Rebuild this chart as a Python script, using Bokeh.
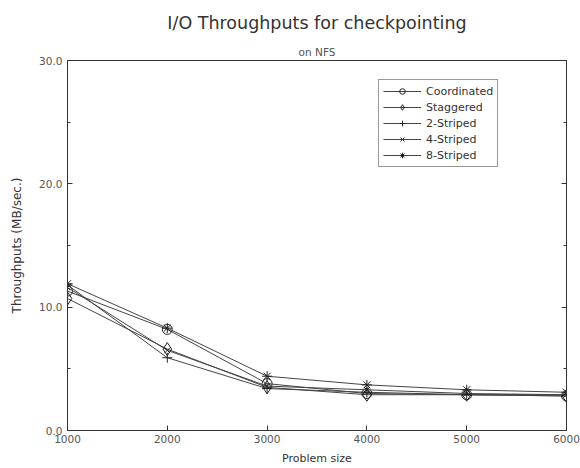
from bokeh.plotting import figure
from bokeh.models import (Range1d, LinearAxis, FixedTicker, Title, Legend, LegendItem,
                          NumeralTickFormatter)
from bokeh.embed import file_html
from bokeh.resources import INLINE

problem_size = [1000, 2000, 3000, 4000, 5000, 6000]
coordinated = [11.3, 8.2, 3.8, 3.0, 2.9, 2.8]
staggered = [10.7, 6.6, 3.5, 2.9, 2.9, 2.8]
striped2 = [11.8, 5.9, 3.4, 3.1, 2.9, 2.9]
striped4 = [11.6, 6.5, 3.6, 3.3, 3.0, 2.9]
striped8 = [11.9, 8.3, 4.4, 3.7, 3.3, 3.1]

series = [
    ("Coordinated", coordinated, "circle", 10),
    ("Staggered", staggered, "diamond", 13),
    ("2-Striped", striped2, "cross", 10),
    ("4-Striped", striped4, "x", 8),
    ("8-Striped", striped8, "asterisk", 10),
]
y_ticks = [0, 10, 20, 30]
x_ticks = [1000, 2000, 3000, 4000, 5000, 6000]
title_text = "I/O Throughputs for checkpointing"
subtitle_text = "on NFS"

FONT = "DejaVu Sans"
INK = "#333333"

p = figure(width=580, height=468, output_backend="svg", toolbar_location=None,
           x_range=Range1d(1000, 6000), y_range=Range1d(0, 30),
           min_border_left=67, min_border_right=14, min_border_top=60, min_border_bottom=38,
           background_fill_color="white", border_fill_color="white")
p.grid.visible = False
p.outline_line_color = INK
p.outline_line_width = 1

p.add_layout(Title(text=subtitle_text, align="center", text_font=FONT, text_font_size="10.5px",
                   text_color="#555555", text_font_style="normal", standoff=6), "above")
p.add_layout(Title(text=title_text, align="center", text_font=FONT,
                   text_font_size="17.5px", text_color=INK, text_font_style="normal",
                   standoff=12, vertical_align="top"), "above")

for ax in (p.xaxis[0], p.yaxis[0]):
    ax.major_tick_in = 5
    ax.major_tick_out = 0
    ax.minor_tick_in = 3
    ax.minor_tick_out = 0
    ax.axis_line_color = INK
    ax.major_tick_line_color = INK
    ax.minor_tick_line_color = INK
    ax.major_label_text_font = FONT
    ax.major_label_text_font_size = "10.5px"
    ax.major_label_text_color = "#555555"
    ax.axis_label_text_font = FONT
    ax.axis_label_text_font_style = "normal"
    ax.axis_label_text_color = INK

p.xaxis[0].ticker = FixedTicker(ticks=x_ticks)
p.xaxis[0].minor_tick_line_color = None
p.xaxis[0].axis_label = "Problem size"
p.xaxis[0].axis_label_text_font_size = "11px"
p.xaxis[0].axis_label_standoff = 6
p.xaxis[0].major_label_standoff = 4

p.yaxis[0].ticker = FixedTicker(ticks=y_ticks, minor_ticks=[5, 15, 25])
p.yaxis[0].formatter = NumeralTickFormatter(format="0.0")
p.yaxis[0].axis_label = "Throughputs (MB/sec.)"
p.yaxis[0].axis_label_text_font_size = "12px"
p.yaxis[0].axis_label_standoff = 12
p.yaxis[0].major_label_standoff = 5

right = LinearAxis(ticker=FixedTicker(ticks=y_ticks, minor_ticks=[5, 15, 25]),
                   major_label_overrides={t: "" for t in y_ticks},
                   major_tick_in=5, major_tick_out=0,
                   minor_tick_in=3, minor_tick_out=0, axis_line_color=INK,
                   major_tick_line_color=INK, minor_tick_line_color=INK)
p.add_layout(right, "right")

items = []
for name, vals, marker, sz in series:
    ln = p.line(problem_size, vals, line_color="#444444", line_width=1)
    sc = p.scatter(problem_size, vals, marker=marker, size=sz, fill_color=None,
                   line_color="#222222", line_width=1)
    items.append(LegendItem(label=name, renderers=[ln, sc]))

legend = Legend(items=items, location=(311, 263), glyph_width=38, glyph_height=14,
                label_text_font=FONT, label_text_font_size="11px", label_text_color=INK,
                label_height=14, spacing=2, padding=4, margin=0,
                border_line_color=INK, border_line_width=1,
                label_standoff=5)
p.add_layout(legend, "center")

open("out.html", "w").write(file_html(p, INLINE))
